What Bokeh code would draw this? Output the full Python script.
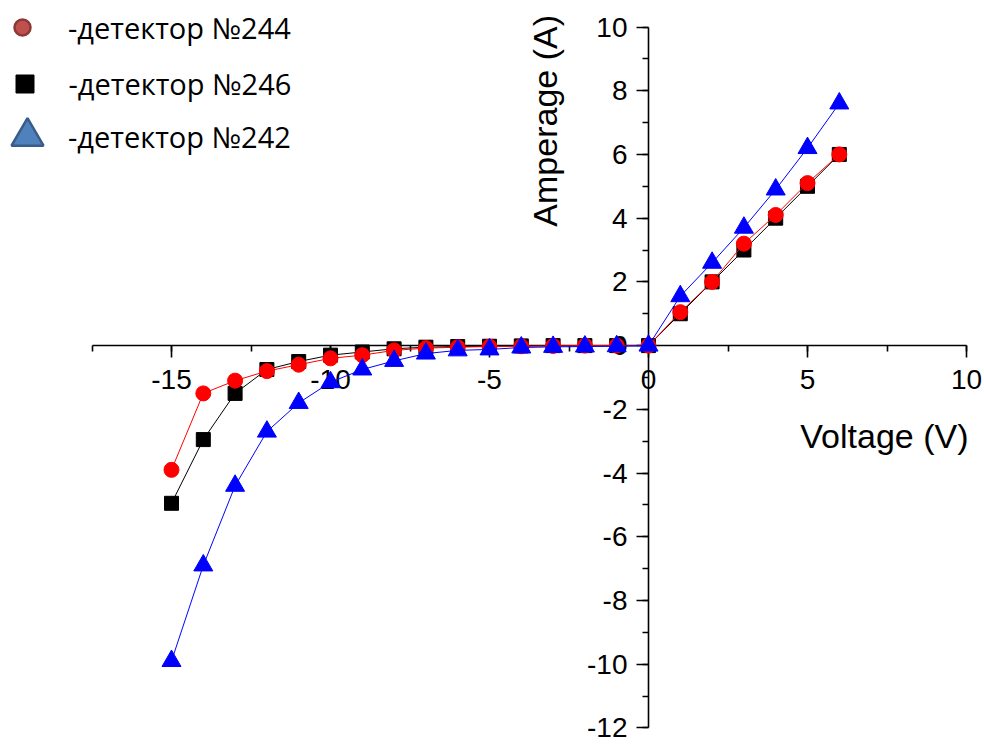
import math
from bokeh.plotting import figure
from bokeh.models import (LinearAxis, SingleIntervalTicker, Range1d, Legend,
                          LegendItem, ColumnDataSource, PrintfTickFormatter, Label)
from bokeh.embed import file_html
from bokeh.resources import INLINE

# ---------------- data ----------------
voltage = [-15, -14, -13, -12, -11, -10, -9, -8, -7, -6, -5, -4, -3, -2, -1,
           0, 1, 2, 3, 4, 5, 6]
amp_244 = [-3.9, -1.5, -1.1, -0.8, -0.6, -0.4, -0.3, -0.15, -0.08, -0.05,
           -0.03, -0.02, -0.01, 0.0, 0.0, 0.0, 1.05, 2.0, 3.2, 4.1, 5.1, 6.0]
amp_246 = [-4.95, -2.95, -1.5, -0.75, -0.5, -0.3, -0.2, -0.1, -0.05, -0.03,
           -0.02, -0.01, 0.0, 0.0, 0.0, 0.0, 1.0, 2.0, 3.0, 4.0, 5.0, 6.0]
amp_242 = [-9.9, -6.9, -4.4, -2.7, -1.8, -1.15, -0.75, -0.48, -0.25, -0.15,
           -0.12, -0.06, -0.04, -0.03, -0.02, 0.0, 1.55, 2.6, 3.7, 4.9, 6.2, 7.6]
legend_labels = ["-детектор №244", "-детектор №246", "-детектор №242"]
x_title = "Voltage (V)"
y_title = "Amperage (A)"
x_bounds = (-17.5, 10)
y_bounds = (-12, 10)
x_tick_step = 5
y_tick_step = 2

# ---------------- layout ----------------
W, H = 984, 744
kx = 31.8            # px per volt
ky = 31.86           # px per ampere
x_zero_px = 648.0    # x=0 position inside canvas
y_top_px = 26.5      # y=10 position inside canvas
x0 = -x_zero_px / kx
x1 = x0 + W / kx
y1 = 10 + y_top_px / ky
y0 = y1 - H / ky

p = figure(width=W, height=H, output_backend="svg", toolbar_location=None,
           x_range=Range1d(x0, x1), y_range=Range1d(y0, y1),
           x_axis_type=None, y_axis_type=None, min_border=0,
           outline_line_color=None, background_fill_color="white",
           border_fill_color="white")

TICK_FONT = "Liberation Sans"

xaxis = LinearAxis(fixed_location=0, bounds=x_bounds,
                   ticker=SingleIntervalTicker(interval=x_tick_step, num_minor_ticks=2),
                   formatter=PrintfTickFormatter(format="%d"))
yaxis = LinearAxis(fixed_location=0, bounds=y_bounds,
                   ticker=SingleIntervalTicker(interval=y_tick_step, num_minor_ticks=2),
                   formatter=PrintfTickFormatter(format="%d"))
for ax in (xaxis, yaxis):
    ax.axis_line_color = "black"
    ax.axis_line_width = 1.6
    ax.major_tick_line_color = "black"
    ax.minor_tick_line_color = "black"
    ax.major_tick_line_width = 1.6
    ax.minor_tick_line_width = 1.6
    ax.major_tick_in = 0
    ax.major_tick_out = 12
    ax.minor_tick_in = 0
    ax.minor_tick_out = 6
    ax.major_label_text_font = TICK_FONT
    ax.major_label_text_font_size = "28px"
    ax.major_label_text_color = "black"
    ax.level = "underlay"
xaxis.major_label_standoff = 12
yaxis.major_label_standoff = 9
p.add_layout(xaxis, "below")
p.add_layout(yaxis, "left")

# axis titles, anchored at the axis ends
p.add_layout(Label(x=x_bounds[1], y=0, text=x_title, x_offset=2, y_offset=-90,
                   text_align="right", text_baseline="middle",
                   text_font=TICK_FONT, text_font_size="34px", text_color="black"))
p.add_layout(Label(x=0, y=y_bounds[1], text=y_title, x_offset=-104, y_offset=12,
                   angle=math.pi / 2, text_align="right", text_baseline="middle",
                   text_font=TICK_FONT, text_font_size="34px", text_color="black"))

src = ColumnDataSource(dict(v=voltage, a244=amp_244, a246=amp_246, a242=amp_242))

# black (246)
p.line("v", "a246", source=src, line_color="black", line_width=1)
p.scatter("v", "a246", source=src, marker="square", size=14,
          fill_color="black", line_color="black")
# red (244)
p.line("v", "a244", source=src, line_color="#ff0000", line_width=1)
p.scatter("v", "a244", source=src, marker="circle", size=15,
          fill_color="#ff0000", line_color="#ff0000")
# blue (242)
p.line("v", "a242", source=src, line_color="#0000ff", line_width=1)
p.scatter("v", "a242", source=src, marker="triangle", size=19,
          fill_color="#0000ff", line_color="#0000ff")

# ---------------- legend (office-style markers) ----------------
nan = float("nan")
leg_circle = p.scatter(x=[nan], y=[nan], marker="circle", fill_color="#C0504D",
                       line_color="#8C3836", line_width=2.5)
leg_square = p.scatter(x=[nan], y=[nan], marker="square", fill_color="black",
                       line_color="black", line_width=1)
leg_tri = p.scatter(x=[nan], y=[nan], marker="triangle", fill_color="#4F81BD",
                    line_color="#385D8A", line_width=2.5)

LEG_FONT = "Open Sans"
label_x = 68
specs = [
    (leg_circle, legend_labels[0], 40, 22, 27),
    (leg_square, legend_labels[1], 45, 24, 83),
    (leg_tri, legend_labels[2], 80, 27, 136),
]
for rend, lab, g, cx, cy in specs:
    left = cx - g / 2
    top = cy - g / 2
    leg = Legend(items=[LegendItem(label=lab, renderers=[rend])],
                 location=(left, H - (top + g)),
                 glyph_width=g, glyph_height=g, label_height=g,
                 label_standoff=int(round(label_x - (left + g))),
                 padding=0, margin=0, spacing=0,
                 border_line_color=None, background_fill_alpha=0,
                 label_text_font=LEG_FONT, label_text_font_size="29px",
                 label_text_color="black")
    p.add_layout(leg)

open("out.html", "w").write(file_html(p, INLINE))
